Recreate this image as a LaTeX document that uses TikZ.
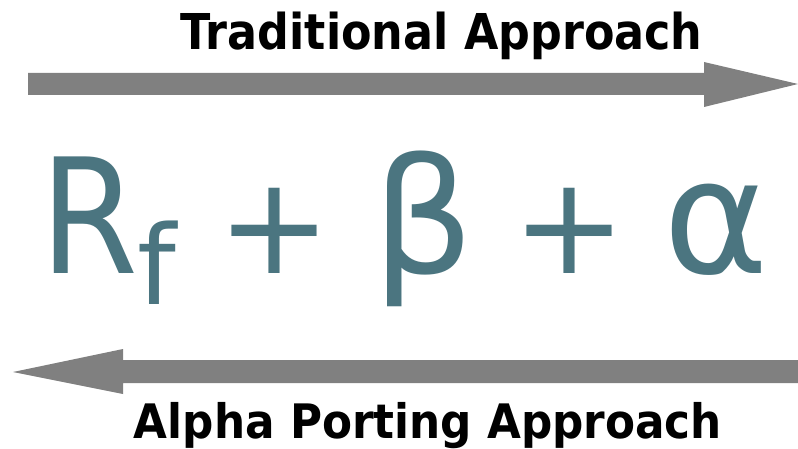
\documentclass[tikz,border=0pt]{standalone}
\usepackage{fontspec}
\setmainfont{DejaVu Sans}
\usepackage{graphicx}
\definecolor{formulateal}{RGB}{75,117,128}
\definecolor{arrowgray}{RGB}{128,128,128}
\begin{document}
\begin{tikzpicture}[x=1pt,y=-1pt,
  titletext/.style={font=\bfseries, inner sep=0pt, anchor=base, text=black},
  glyph/.style={inner sep=0pt, anchor=base, text=formulateal},
  bigarrow/.style={fill=arrowgray, draw=none}]
\useasboundingbox (0,0) rectangle (798,449);
% top arrow (right)
\fill[bigarrow] (28,73) -- (704,73) -- (704,62) -- (798,84) -- (704,107) -- (704,95) -- (28,95) -- cycle;
% bottom arrow (left)
\fill[bigarrow] (798,360) -- (123,360) -- (123,349) -- (13,372) -- (123,394) -- (123,383) -- (798,383) -- cycle;
\node[titletext] (top) at (441.5,49.3) {\resizebox{522pt}{\height}{\fontsize{49.4}{50}\selectfont\bfseries Traditional Approach}};
\node[titletext] (bottom) at (428,438.5) {\resizebox{588pt}{\height}{\fontsize{47.5}{50}\selectfont\bfseries Alpha Porting Approach}};
\node[glyph] (R) at (89,273) {\scalebox{0.88}[1]{\fontsize{160}{160}\selectfont R}};
\node[glyph] (f) at (156.5,304) {\fontsize{110}{110}\selectfont f};
\node[glyph] (plus1) at (274.5,273) {\scalebox{0.85}{\fontsize{160}{160}\selectfont +}};
\node[glyph] (beta) at (424,273) {\fontsize{160}{160}\selectfont β};
\node[glyph] (plus2) at (569,273) {\scalebox{0.85}{\fontsize{160}{160}\selectfont +}};
\node[glyph] (alpha) at (716.5,273) {\fontsize{160}{160}\selectfont α};
\end{tikzpicture}
\end{document}
